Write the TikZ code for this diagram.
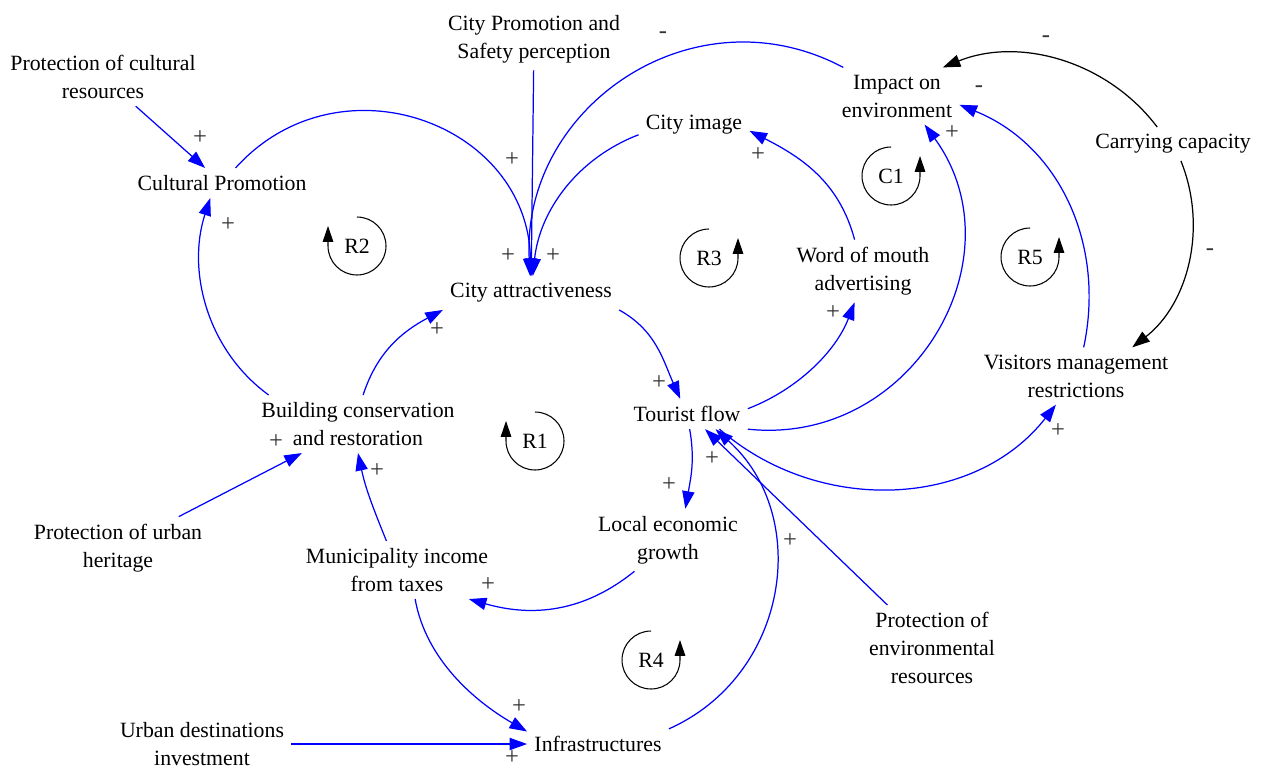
\documentclass[tikz,border=0pt]{standalone}
\usepackage{fontspec}
\setmainfont{Liberation Serif}
\usetikzlibrary{arrows.meta}

\begin{document}
\begin{tikzpicture}[x=0.02cm,y=0.02cm,
  every node/.style={font=\fontsize{12.4}{15.9}\selectfont},
  var/.style={align=center,inner sep=4pt},
  sign/.style={text=black!80,inner sep=0pt,font=\fontsize{14}{14}\selectfont},
  link/.style={blue,line width=0.7pt,-{Triangle[length=10pt,width=7pt]}},
  ctrl/.style={black,line width=0.7pt,-{Triangle[length=10pt,width=7pt]}},
  loopmark/.style={black,line width=0.6pt,-{Triangle[length=9pt,width=6pt]}}]
  \path[use as bounding box,fill=white] (0,0) rectangle (1270,-769);

  %variables
  \node[var] (pcr) at (103,-77) {Protection of cultural\\resources};
  \node[var] (cps) at (534,-39) {City Promotion and\\Safety perception};
  \node[var] (cpro) at (222,-183) {Cultural Promotion};
  \node[var] (cimg) at (694,-125) {City image};
  \node[var] (impact) at (897,-96) {Impact on\\environment};
  \node[var] (carry) at (1173,-144) {Carrying capacity};
  \node[var] (attr) at (531,-293) {City attractiveness};
  \node[var] (wom) at (863,-271) {Word of mouth\\advertising};
  \node[var] (vmr) at (1076,-376) {Visitors management\\restrictions};
  \node[var] (tour) at (687,-414) {Tourist flow};
  \node[var] (bcr) at (358,-424) {Building conservation\\and restoration};
  \node[var] (puh) at (118,-548) {Protection of urban\\heritage};
  \node[var] (leg) at (668,-540) {Local economic\\growth};
  \node[var] (mit) at (397,-570) {Municipality income\\from taxes};
  \node[var] (per) at (932,-648) {Protection of\\environmental\\resources};
  \node[var] (udi) at (202,-744) {Urban destinations\\investment};
  \node[var] (infra) at (598,-744) {Infrastructures};

  %links
  \draw[link] (pcr) -- (cpro);
  \draw[link] (cpro) to[out=48,in=91,looseness=1.25] (attr);
  \draw[link] (cps) -- (attr);
  \draw[link] (impact) to[out=152,in=93,looseness=1.15] (attr);
  \draw[link] (cimg.190) to[out=201,in=84,looseness=0.95] (attr);
  \draw[link] (wom.105) to[out=105,in=-27] (cimg.-6);
  \draw[link] (tour.5) to[out=21,in=249,looseness=0.9] (wom.255);
  \draw[link] (tour.south east) to[out=-6,in=-54,looseness=1.2] (impact.-46);
  \draw[link] (vmr.75) to[out=78,in=-22] (impact.-8);
  \draw[ctrl] (carry.133) to[out=127,in=22,looseness=0.95] (impact.32);
  \draw[ctrl] (carry.-65) to[out=-68,in=38,looseness=0.95] (vmr.27);
  \draw[link] (tour.-25) to[out=-41,in=232] (vmr.-125);
  \draw[link] (attr.south east) to[out=-29,in=114] (tour);
  \draw[link] (tour.-80) to[out=-80,in=80] (leg.61);
  \draw[link] (leg.223) to[out=219,in=-16] (mit.-22);
  \draw[link] (mit.110) to[out=112,in=-78] (bcr.south);
  \draw[link] (bcr.80) to[out=72,in=208] (attr.south west);
  \draw[link] (bcr.162) to[out=144,in=252,looseness=0.95] (cpro.-128);
  \draw[link] (puh) -- (bcr);
  \draw[link] (mit.-58) to[out=-80,in=150,looseness=0.9] (infra.170);
  \draw[link] (udi) -- (infra);
  \draw[link] (infra.north east) to[out=24,in=-42,looseness=1.1] (tour.-28);
  \draw[link] (per) -- (tour.-40);

  %polarities
  \foreach \x/\y [count=\i] in {200/138,512/160,508/256,553/256,758/155,952/133,
      833/313,228/225,437/330,659/383,276/442,377/471,712/459,669/485,
      1058/431,790/541,488/585,519/707,512/758}
    \node[sign] (plus\i) at (\x,-\y) {+};
  \foreach \x/\y [count=\i] in {663/35,1046/39,979/89,1210/252}
    \node[sign] (minus\i) at (\x,-\y) {-};

  %loops
  \foreach \n/\x/\y in {R2/357/246,R1/535/441}{
    \node (\n) at (\x,-\y) {\n};
    \draw[loopmark] (\n.center) ++(0,29) arc[start angle=90,end angle=-180,radius=0.58cm] -- ++(0,20);
  }
  \foreach \n/\x/\y in {R3/709/258,C1/891/176,R5/1030/257,R4/651/660}{
    \node (\n) at (\x,-\y) {\n};
    \draw[loopmark] (\n.center) ++(0,29) arc[start angle=90,end angle=360,radius=0.58cm] -- ++(0,20);
  }
\end{tikzpicture}
\end{document}
